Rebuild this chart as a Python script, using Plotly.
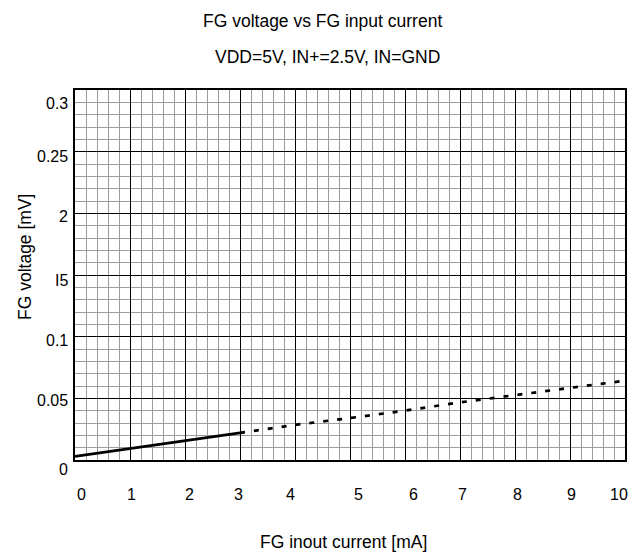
import plotly.graph_objects as go

# Data
solid_x = [0, 1, 2, 3]
solid_y = [0.003, 0.0095, 0.0155, 0.022]
dash_x = [3, 4, 5, 6, 7, 8, 9, 10]
dash_y = [0.022, 0.0285, 0.034, 0.040, 0.0467, 0.0528, 0.0585, 0.0643]

x_tick_text = ["0", "1", "2", "3", "4", "5", "6", "7", "8", "9", "10"]
x_tick_pos = [0.12, 1.03, 2.09, 2.98, 3.91, 5.16, 6.15, 7.04, 8.04, 9.02, 9.89]
y_tick_text = ["0", "0.05", "0.1", "I5", "2", "0.25", "0.3"]
y_tick_pos = [-0.0081, 0.048, 0.0972, 0.1459, 0.1972, 0.2458, 0.2892]

title = "FG voltage vs FG input current"
subtitle = "VDD=5V, IN+=2.5V, IN=GND"
x_title = "FG inout current [mA]"
y_title = "FG voltage [mV]"

FONT = "Liberation Sans, Arial, sans-serif"
X_RANGE = [0, 10]
Y_RANGE = [0, 0.3]
OFF = 8  # page body margin
W, H = 642 - OFF, 557 - OFF
L, T = 75 - OFF, 90 - OFF
R = W - (625 - OFF)
B = H - (460 - OFF)
PW = W - L - R

fig = go.Figure()

fig.add_trace(go.Scatter(x=solid_x, y=solid_y, mode="lines",
                         line=dict(color="black", width=2.7), showlegend=False))
fig.add_trace(go.Scatter(x=dash_x, y=dash_y, mode="lines",
                         line=dict(color="black", width=2.7, dash="5px,9px"),
                         showlegend=False))

annotations = []
for t, p in zip(x_tick_text, x_tick_pos):
    annotations.append(dict(text=t, x=p, xref="x", y=0, yref="paper",
                            yanchor="middle", yshift=-34, showarrow=False,
                            font=dict(size=16, family=FONT, color="black")))
for t, p in zip(y_tick_text, y_tick_pos):
    annotations.append(dict(text=t, x=0, xref="paper", xanchor="right",
                            xshift=-5, y=(p - Y_RANGE[0]) / (Y_RANGE[1] - Y_RANGE[0]),
                            yref="paper", yanchor="middle",
                            showarrow=False,
                            font=dict(size=16, family=FONT, color="black")))

annotations.append(dict(text=title, x=(322 - 75) / PW, xref="paper", y=1, yref="paper",
                        yshift=90 - 20.7, yanchor="middle", showarrow=False,
                        font=dict(size=17.5, family=FONT, color="black")))
annotations.append(dict(text=subtitle, x=(327 - 75) / PW, xref="paper",
                        y=1, yref="paper", yshift=90 - 56.7, yanchor="middle",
                        showarrow=False,
                        font=dict(size=17.5, family=FONT, color="black")))
annotations.append(dict(text=x_title, x=(343.5 - 75) / PW, xref="paper",
                        y=0, yref="paper", yshift=-82, yanchor="middle",
                        showarrow=False,
                        font=dict(size=17.5, family=FONT, color="black")))
annotations.append(dict(text=y_title, x=0, xref="paper", xshift=25 - 75,
                        xanchor="center", y=(460 - 257) / 370, yref="paper",
                        yanchor="middle", textangle=-90, showarrow=False,
                        font=dict(size=17.5, family=FONT, color="black")))

fig.update_layout(
    width=W, height=H,
    margin=dict(l=L, r=R, t=T, b=B),
    paper_bgcolor="white", plot_bgcolor="white",
    font=dict(family=FONT, color="black"),
    annotations=annotations,
    xaxis=dict(range=X_RANGE, showticklabels=False, ticks="",
               dtick=1, tick0=0, showgrid=True, gridcolor="black", gridwidth=1,
               minor=dict(dtick=0.2, showgrid=True, gridcolor="#9c9c9c", gridwidth=1),
               zeroline=False, showline=True, linecolor="black", linewidth=2,
               mirror=True),
    yaxis=dict(range=Y_RANGE, showticklabels=False, ticks="",
               dtick=0.05, tick0=0, showgrid=True, gridcolor="black", gridwidth=1,
               minor=dict(dtick=0.01, showgrid=True, gridcolor="#9c9c9c", gridwidth=1),
               zeroline=False, showline=True, linecolor="black", linewidth=2,
               mirror=True),
)

fig.write_html("out.html")
